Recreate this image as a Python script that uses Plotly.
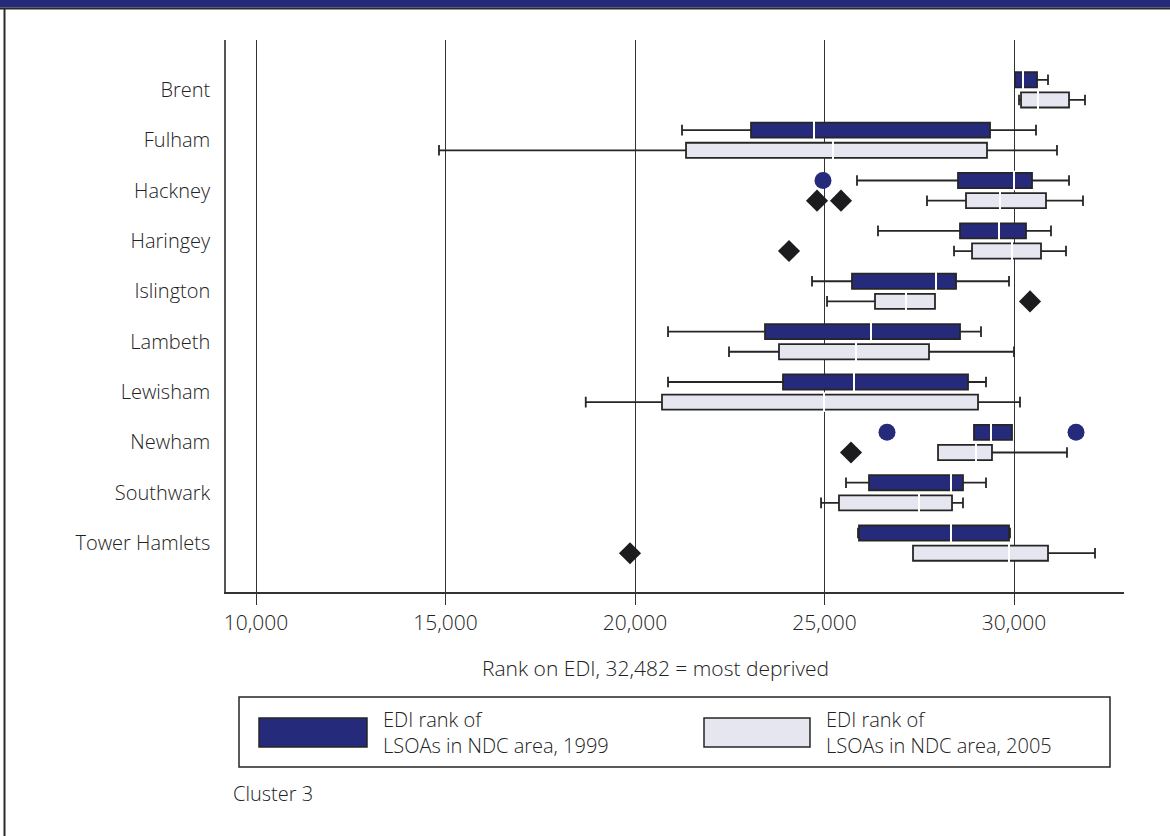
import plotly.graph_objects as go
import numpy as np

# ---------------- data ----------------
categories = ["Brent", "Fulham", "Hackney", "Haringey", "Islington",
              "Lambeth", "Lewisham", "Newham", "Southwark", "Tower Hamlets"]

low_1999 = [30026, 21240, 25857, 26411, 24670, 20871, 20871, 28944, 25567, 25884]
q1_1999 = [30026, 23061, 28522, 28575, 25725, 23430, 23905, 28944, 26174, 25910]
med_1999 = [30237, 24723, 30000, 29604, 27942, 26227, 25778, 29393, 28338, 28338]
q3_1999 = [30607, 29367, 30475, 30316, 28470, 28575, 28786, 29947, 28654, 29868]
high_1999 = [30897, 30580, 31451, 30976, 29868, 29129, 29261, 29947, 29261, 29894]

low_2005 = [30132, 14828, 27704, 28417, 25066, 22480, 18700, 27995, 24908, 27335]
q1_2005 = [30185, 21346, 28733, 28892, 26332, 23799, 20712, 27995, 25382, 27335]
med_2005 = [30633, 25224, 29630, 29947, 27150, 25831, 24987, 28997, 27493, 29868]
q3_2005 = [31451, 29287, 30844, 30712, 27915, 27757, 29050, 29419, 28364, 30897]
high_2005 = [31873, 31134, 31820, 31372, 27915, 30000, 30158, 31398, 28654, 32137]

out1999_cat = ["Hackney", "Newham", "Newham"]
out1999_val = [24960, 26649, 31636]
out2005_cat = ["Hackney", "Hackney", "Haringey", "Islington", "Newham", "Tower Hamlets"]
out2005_val = [24802, 25435, 24063, 30422, 25699, 19868]

x_ticks = [10000, 15000, 20000, 25000, 30000]
x_title = "Rank on EDI, 32,482 = most deprived"
legend_1999 = "EDI rank of<br>LSOAs in NDC area, 1999"
legend_2005 = "EDI rank of<br>LSOAs in NDC area, 2005"
footnote = "Cluster 3"

# ---------------- style ----------------
DARK = "#262a7b"
LIGHT = "#e6e6f0"
EDGE = "#262626"
TXT = "#222222"
FONT = "Open Sans"
FS = 20
FW = 300

W, H = 1170, 836
L, R, T, B = 226, 1124, 40, 592  # plot area in pixels

def px(xp):
    return (xp - L) / (R - L)

def py(yp):
    return (B - yp) / (B - T)

def fnt(size=FS):
    return dict(family=FONT, size=size, color=TXT, weight=FW)

idx = np.arange(len(categories))
OFF = 0.2
pos = {c: i for i, c in enumerate(categories)}
y99 = idx - OFF
y05 = idx + OFF

fig = go.Figure()

def add_boxes(ypos, lo, q1, med, q3, hi, fill):
    fig.add_trace(go.Box(
        y=list(ypos), q1=q1, median=med, q3=q3,
        lowerfence=lo, upperfence=hi,
        orientation="h", width=0.3, whiskerwidth=0.7,
        fillcolor=fill, line=dict(color=EDGE, width=1.8),
        boxpoints=False, hoverinfo="skip", showlegend=False))
    fig.add_trace(go.Scatter(
        x=med, y=list(ypos), mode="markers",
        marker=dict(symbol="line-ns", size=14,
                    line=dict(color="white", width=2)),
        hoverinfo="skip", showlegend=False))

add_boxes(y99, low_1999, q1_1999, med_1999, q3_1999, high_1999, DARK)
add_boxes(y05, low_2005, q1_2005, med_2005, q3_2005, high_2005, LIGHT)

fig.add_trace(go.Scatter(
    x=out1999_val, y=[pos[c] - OFF for c in out1999_cat], mode="markers",
    marker=dict(symbol="circle", size=17, color=DARK, line=dict(width=0)),
    hoverinfo="skip", showlegend=False))
fig.add_trace(go.Scatter(
    x=out2005_val, y=[pos[c] + OFF for c in out2005_cat], mode="markers",
    marker=dict(symbol="diamond", size=17, color="#1c1c1e", line=dict(width=0)),
    hoverinfo="skip", showlegend=False))

shapes = []
annotations = []

# top banner and frame
shapes.append(dict(type="rect", xref="paper", yref="paper",
                   x0=px(0), x1=px(W), y0=py(0), y1=py(7.5),
                   fillcolor="#232a7a", line=dict(width=0), layer="above"))
shapes.append(dict(type="line", xref="paper", yref="paper",
                   x0=px(0), x1=px(W), y0=py(8.5), y1=py(8.5),
                   line=dict(color="#2b2b2b", width=2)))
shapes.append(dict(type="line", xref="paper", yref="paper",
                   x0=px(4.5), x1=px(4.5), y0=py(8), y1=py(H),
                   line=dict(color="#2b2b2b", width=2)))

# legend box
shapes.append(dict(type="rect", xref="paper", yref="paper",
                   x0=px(239), x1=px(1110), y0=py(697), y1=py(767),
                   fillcolor="white", line=dict(color=EDGE, width=1.5)))
shapes.append(dict(type="rect", xref="paper", yref="paper",
                   x0=px(259), x1=px(367), y0=py(718), y1=py(747),
                   fillcolor=DARK, line=dict(color=EDGE, width=1.5)))
shapes.append(dict(type="rect", xref="paper", yref="paper",
                   x0=px(704), x1=px(810), y0=py(718), y1=py(747),
                   fillcolor=LIGHT, line=dict(color=EDGE, width=1.5)))

annotations.append(dict(xref="paper", yref="paper", x=px(381), y=py(732),
                        xanchor="left", yanchor="middle", align="left",
                        text=legend_1999, showarrow=False, font=fnt()))
annotations.append(dict(xref="paper", yref="paper", x=px(824), y=py(732),
                        xanchor="left", yanchor="middle", align="left",
                        text=legend_2005, showarrow=False, font=fnt()))
annotations.append(dict(xref="paper", yref="paper", x=px(655), y=py(668),
                        xanchor="center", yanchor="middle",
                        text=x_title, showarrow=False, font=fnt(21)))
annotations.append(dict(xref="paper", yref="paper", x=px(231), y=py(793),
                        xanchor="left", yanchor="middle",
                        text=footnote, showarrow=False, font=fnt()))

fig.update_layout(
    width=W, height=H, autosize=False,
    margin=dict(l=L, r=W - R, t=T, b=H - B, pad=0),
    paper_bgcolor="white", plot_bgcolor="white",
    showlegend=False,
    shapes=shapes, annotations=annotations,
    xaxis=dict(range=[9208, 32902], tickvals=x_ticks, tickformat=",d",
               showgrid=True, gridcolor="#333333", gridwidth=1,
               zeroline=False, showline=True, linecolor="#333333", linewidth=2,
               ticks="outside", ticklen=11, tickcolor="#333333", tickwidth=1,
               tickfont=fnt(21)),
    yaxis=dict(range=[9.97, -0.99], tickvals=list(idx), ticktext=categories,
               showgrid=False, zeroline=False, showline=True,
               linecolor="#555555", linewidth=1.5,
               ticks="outside", ticklen=10, tickcolor="rgba(0,0,0,0)",
               tickfont=fnt()),
)

fig.write_html("out.html", config={"displayModeBar": False},
               post_script="document.body.style.margin='0';document.body.style.overflow='hidden';")
